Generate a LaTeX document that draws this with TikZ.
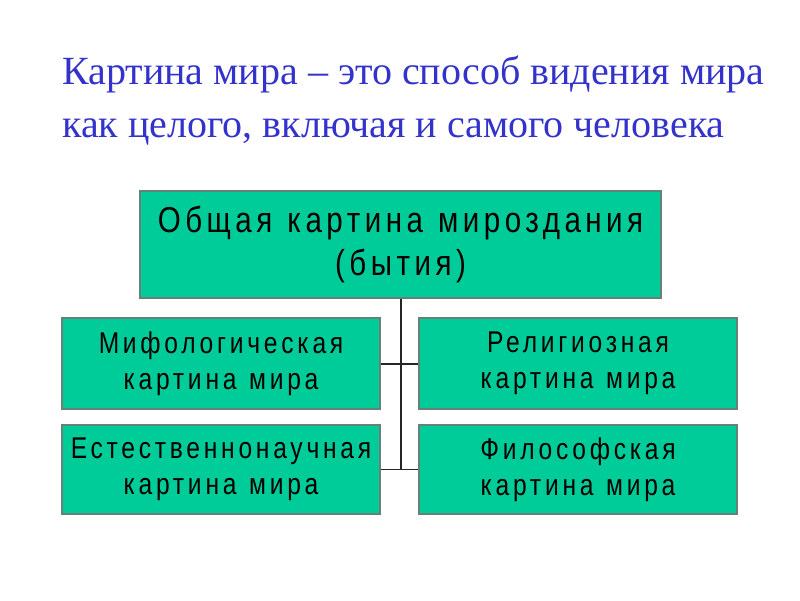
\documentclass[tikz,border=0pt]{standalone}
\usepackage{fontspec}
\setmainfont{Liberation Serif}
\newfontfamily\boxfont[FakeStretch=0.82,LetterSpace=12.5]{Liberation Sans}
\newcommand{\ws}{\hspace{0.42em}}
\definecolor{boxgreen}{RGB}{0,204,153}
\definecolor{boxedge}{RGB}{100,130,120}
\definecolor{titleblue}{RGB}{51,51,204}
\begin{document}
\begin{tikzpicture}[x=1pt,y=-1pt,
  greenbox/.style={draw=boxedge,line width=1.5pt,fill=boxgreen,inner sep=0pt,
    align=center,text=black,font=\boxfont\fontsize{30}{36}\selectfont},
  conn/.style={draw=black!85,line width=2pt}]
\useasboundingbox (0,0) rectangle (800,600);
\node[anchor=west,text=titleblue,align=left,inner sep=0pt,
  font=\fontsize{40}{53}\selectfont] (title) at (62,101)
  {Картина мира – это способ видения мира\\как целого, включая и самого человека};
\node[greenbox,minimum width=521pt,minimum height=107pt,text width=515pt,
  font=\boxfont\fontsize{36}{43}\selectfont] (top) at (400.5,244.5)
  {Общая\ws картина\ws мироздания\\(бытия)};
\node[greenbox,minimum width=318pt,minimum height=91pt,text width=312pt] (m1) at (221,363.5)
  {Мифологическая\\картина\ws мира};
\node[greenbox,minimum width=318pt,minimum height=89pt,text width=312pt] (n1) at (221,469.5)
  {Естественнонаучная\\картина\ws мира};
\node[greenbox,minimum width=318pt,minimum height=91pt,text width=312pt] (r1) at (578,363.5)
  {Религиозная\\картина\ws мира};
\node[greenbox,minimum width=318pt,minimum height=89pt,text width=312pt] (f1) at (578,469.5)
  {Философская\\картина\ws мира};
\draw[conn] (top.south) -- (top.south |- n1.east);
\draw[conn] (m1.east) -- (r1.west);
\draw[conn,line width=1.2pt] (n1.east) -- (f1.west);
\end{tikzpicture}
\end{document}
